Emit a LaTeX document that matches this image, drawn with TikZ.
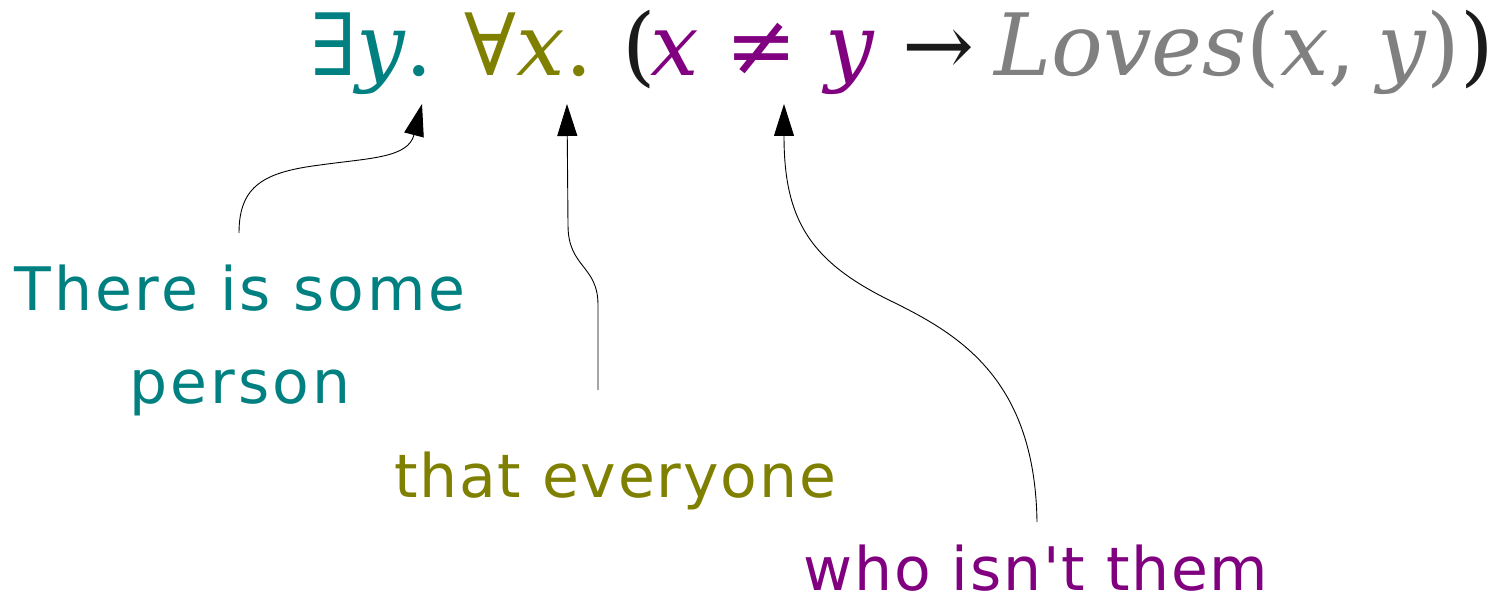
\documentclass[tikz,border=0pt]{standalone}
\usepackage{fontspec}
\usetikzlibrary{arrows.meta}
\newfontfamily\fml{DejaVu Serif}
\newfontfamily\hand[LetterSpace=3]{DejaVu Sans}
\newfontfamily\handwide[LetterSpace=5]{DejaVu Sans}
\definecolor{cteal}{HTML}{008080}
\definecolor{colive}{HTML}{808000}
\definecolor{cpurple}{HTML}{800080}
\definecolor{cgray}{HTML}{808080}
\definecolor{cblack}{HTML}{1A1A1A}
\tikzset{
  formula/.style={anchor=base west, inner sep=0pt, text=cblack, font=\fml\fontsize{86}{100}\selectfont},
  label/.style={anchor=base, inner sep=0pt, font=\hand\fontsize{60}{93}\selectfont},
  conn/.style={draw=black, line width=0.9pt, -{Triangle[length=32pt,width=20pt]}},
}
\begin{document}
\begin{tikzpicture}[x=1pt,y=-1pt]
\useasboundingbox[fill=white] (0,0) rectangle (1497,601);
\node[formula] (f) at (310,76) {\textcolor{cteal}{∃\textit{y}.}\hspace{32pt}\textcolor{colive}{∀\textit{x}.}\hspace{30pt}(\hspace{-6pt}\textcolor{cpurple}{\textit{x} ≠ \textit{y}} →\hspace{20pt}\textcolor{cgray}{\textit{Loves}(\textit{x},\hspace{21pt}\textit{y})})};
\coordinate (t1) at (422,104);
\coordinate (t2) at (567,104);
\coordinate (t3) at (784,104);
\node[label, text=cteal, align=center, font=\handwide\fontsize{60}{93}\selectfont] (l1) at (240,404) {There is some\\person};
\node[label, text=colive] (l2) at (615,497) {that everyone};
\node[label, text=cpurple, text depth=0pt] (l3) at (1036,590) {who isn't them};
\coordinate (s1) at (239,233);
\coordinate (s2) at (598,390);
\coordinate (s3) at (1037,522);
\draw[conn] (s1) .. controls (239,185) and (265,172) .. (320,165) .. controls (370,158) and (408,158) .. (t1);
\draw[conn] (s2) -- (598,305) .. controls (598,265) and (568,268) .. (568,225) -- (t2);
\draw[conn] (s3) .. controls (1035,380) and (960,335) .. (893,302) .. controls (810,262) and (784,220) .. (t3);
\end{tikzpicture}
\end{document}
